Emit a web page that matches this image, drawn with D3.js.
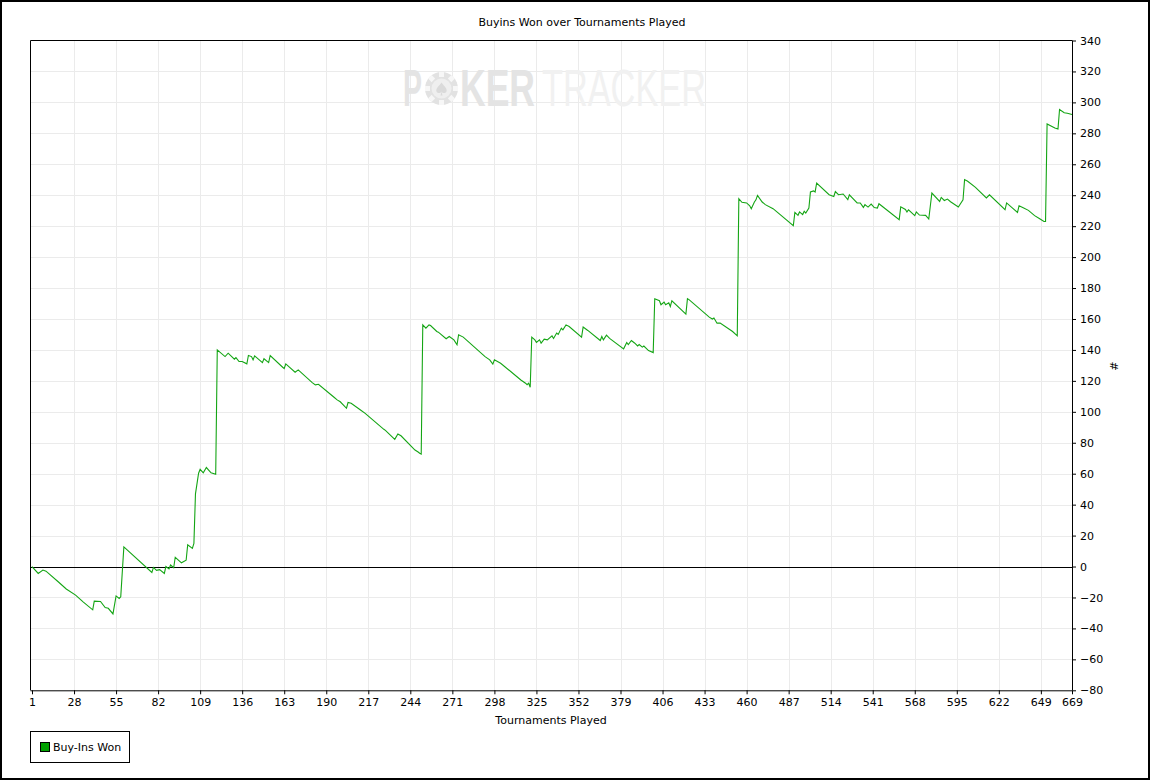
<!DOCTYPE html>
<html><head><meta charset="utf-8">
<script src="https://cdn.jsdelivr.net/npm/d3@7"></script>
<style>body{margin:0;background:#fff}svg{display:block}</style>
</head><body>
<script>
const title = "Buyins Won over Tournaments Played";
const xTitle = "Tournaments Played";
const yTitle = "#";
const seriesName = "Buy-Ins Won";
const xTicks = [1,28,55,82,109,136,163,190,217,244,271,298,325,352,379,406,433,460,487,514,541,568,595,622,649,669];
const yTicks = [-80,-60,-40,-20,0,20,40,60,80,100,120,140,160,180,200,220,240,260,280,300,320,340];
const tournaments = [1,5,8,10,18,23,29,34,40,41,45,48,50,53,55,57,58,60,78,79,81,83,86,87,89,90,92,93,97,100,101,104,105,106,108,109,111,113,116,119,120,125,127,131,132,134,136,139,140,142,143,144,149,150,153,154,162,163,164,170,172,181,183,185,195,197,199,203,204,206,212,215,227,228,234,236,238,247,249,250,251,252,254,256,257,261,262,267,269,272,274,275,278,292,295,297,298,302,315,318,319,320,321,322,324,325,327,328,330,332,335,336,338,339,341,342,344,346,354,355,358,366,367,368,370,372,381,383,384,386,388,390,391,393,394,397,400,401,404,405,407,408,410,411,412,421,422,423,436,438,439,441,443,451,454,455,457,460,462,463,465,466,467,470,472,477,490,491,493,494,496,497,498,500,501,503,504,505,513,516,517,519,522,525,526,531,533,535,536,538,540,542,544,545,558,559,562,563,564,568,569,571,575,577,579,584,585,587,589,591,596,599,600,602,607,614,616,626,627,634,635,638,641,645,648,651,652,653,658,660,661,664,666,669];
const buyinsWon = [0,-4.5,-2.3,-3,-10,-14.5,-18.5,-23,-28,-22.4,-22.6,-26.5,-27,-30.6,-19,-20.6,-19.6,12.7,-3.8,-0.6,-2.5,-2,-4.5,0,-1.5,1,-0.8,6,2.4,4.1,14,11.7,15,47,60.3,62.8,60.6,64,60.6,59.6,140,135.7,137.9,134,135,132.5,132.5,131,136.4,135.7,133.6,136.2,131.8,134.3,131.8,136.4,128.8,128,131,125.6,127.1,118.9,117.4,117.8,109.4,107.7,106.5,102.3,106,105.5,101.2,99,88.7,88,82.2,85.7,84.5,75.3,74,73.2,72.7,156.2,154.1,156.2,155.8,151.9,151.5,147.2,148.7,146.5,143.3,149.8,148.3,135.7,133.6,130.8,133.6,131.4,120.6,118.5,117.5,118.5,115.9,148.3,146.5,144.8,146.5,144.4,147,146.5,149.1,147.4,150.9,150,154.1,153,156.2,155.1,148.3,154.8,152.6,146.1,148.7,146.5,149.6,147.5,140.7,144.8,143.5,146.1,144.5,142.6,143.5,141.8,142.5,139.6,138.3,173.1,171.8,169.2,170.9,169.2,170.5,168.1,171.8,163.2,173.1,172.5,161.2,160,160.6,157.3,157.3,151.9,149.1,237.8,235.4,235,233.2,231.3,235.6,237,239.9,235.6,233.9,231.3,220.3,228.9,227,229.2,227.5,229.7,228.5,231.7,242.1,242.8,242.1,247.9,240.3,239.2,242.4,240.3,240.8,237.1,240.3,235,235,232.1,233.9,232.3,234.3,232,231.7,234.5,224.2,232.5,230.8,229.2,230.6,226.8,229.2,227.2,227,224.6,241.4,236,238.6,236.6,237.5,235.8,232.4,237.1,250.1,249,245.1,238.2,240.3,230.6,235,228.9,233.2,231.7,230.2,226.8,225,223,223,286.1,283.5,282.8,295.4,293.3,293,292.2];

const W = 1151, H = 781;
const font = "DejaVu Sans, Verdana, sans-serif";
const svg = d3.select("body").append("svg").attr("width", W).attr("height", H)
  .style("font-family", font);

svg.append("rect").attr("x",1).attr("y",1).attr("width",1148).attr("height",778)
  .attr("fill","#fff").attr("stroke","#000").attr("stroke-width",2);

const L = 30.5, T = 40.5, R = 1072, B = 690.3;
const x = d3.scaleLinear().domain([1,669]).range([32, R]);
const y = d3.scaleLinear().domain([-80,340]).range([B, T]);

// grid
const g = svg.append("g");
g.selectAll(".vg").data(xTicks.filter(d => d!==1 && d!==669)).join("line")
  .attr("x1", d=>Math.round(x(d))+0.5).attr("x2", d=>Math.round(x(d))+0.5)
  .attr("y1", T).attr("y2", B).attr("stroke","#ebebeb").attr("stroke-width",1);
g.selectAll(".hg").data(yTicks.filter(d => d!==-80 && d!==340)).join("line")
  .attr("y1", d=>Math.round(y(d))+0.5).attr("y2", d=>Math.round(y(d))+0.5)
  .attr("x1", L).attr("x2", R).attr("stroke","#ebebeb").attr("stroke-width",1);

// watermark
const wm = svg.append("g");
const chip = wm.append("g").attr("transform","translate(441.5,88.5)");
chip.append("circle").attr("r",16.5).attr("fill","#e2e2e2");
for (let i=0;i<8;i++){
  chip.append("rect").attr("x",-2.5).attr("y",-16.5).attr("width",5).attr("height",5)
    .attr("fill","#f7f7f7").attr("transform",`rotate(${i*45})`);
}
chip.append("circle").attr("r",10).attr("fill","#efefef");
chip.append("path").attr("d","M0,-6 C3,-2 6,0 5,3 C4,5 1,5 0,3 L1,7 L-1,7 L0,3 C-1,5 -4,5 -5,3 C-6,0 -3,-2 0,-6Z").attr("fill","#dadada");
function wmText(str, x0, w, bold, fill){
  const t = wm.append("text").attr("x",0).attr("y",0)
    .attr("font-family","Liberation Sans, Arial, sans-serif").attr("font-size",51)
    .attr("font-weight", bold ? "bold" : "normal").attr("fill", fill).text(str);
  const nat = t.node().getComputedTextLength();
  t.attr("transform", `translate(${x0},106) scale(${w/nat},1)`);
}
wmText("P", 403, 19, true, "#e4e4e4");
wmText("KER", 460, 75, true, "#e4e4e4");
wmText("TRACKER", 542, 164, false, "#f1f1f1");

// zero line
svg.append("line").attr("x1",L).attr("x2",R).attr("y1",Math.round(y(0))+0.5).attr("y2",Math.round(y(0))+0.5)
  .attr("stroke","#000").attr("stroke-width",1);

// plot borders
svg.append("line").attr("x1",L).attr("x2",R).attr("y1",T).attr("y2",T).attr("stroke","#000");
svg.append("line").attr("x1",L).attr("x2",L).attr("y1",T).attr("y2",B).attr("stroke","#000");

// series line
const pts = tournaments.map((t,i)=>[t, buyinsWon[i]]);
svg.append("path").datum(pts)
  .attr("d", d3.line().x(d=>x(d[0])).y(d=>y(d[1])))
  .attr("fill","none").attr("stroke","#14a514").attr("stroke-width",1.1);

// x axis
const xa = svg.append("g").attr("transform",`translate(0,${B})`)
  .call(d3.axisBottom(x).tickValues(xTicks).tickFormat(d3.format("d")).tickSize(4).tickPadding(4));
xa.select(".domain").attr("stroke","#000").attr("d",`M${L},0.5H${R}`);
xa.selectAll("line").attr("stroke","#000");
xa.selectAll("text").attr("font-family",font).attr("font-size",11).attr("fill","#000");

// y axis (right)
const ya = svg.append("g").attr("transform",`translate(${R},0)`)
  .call(d3.axisRight(y).tickValues(yTicks).tickFormat(d3.format("d")).tickSize(4).tickPadding(4));
ya.select(".domain").attr("stroke","#000").attr("d",`M0.5,${T}V${B}`);
ya.selectAll("line").attr("stroke","#000");
ya.selectAll("text").attr("font-family",font).attr("font-size",11).attr("fill","#000");

// titles
svg.append("text").attr("x",582).attr("y",26).attr("text-anchor","middle")
  .attr("font-size",11).text(title);
svg.append("text").attr("x",551).attr("y",724).attr("text-anchor","middle")
  .attr("font-size",11).text(xTitle);
svg.append("text").attr("transform","translate(1110,366) rotate(90)").attr("text-anchor","middle")
  .attr("font-size",11).text(yTitle);

// legend
svg.append("rect").attr("x",30.5).attr("y",731.5).attr("width",99).attr("height",31)
  .attr("fill","#fff").attr("stroke","#000");
svg.append("rect").attr("x",40.5).attr("y",742.5).attr("width",9).attr("height",9)
  .attr("fill","#00a000").attr("stroke","#000");
svg.append("text").attr("x",53).attr("y",751).attr("font-size",11).text(seriesName);
</script>
</body></html>
